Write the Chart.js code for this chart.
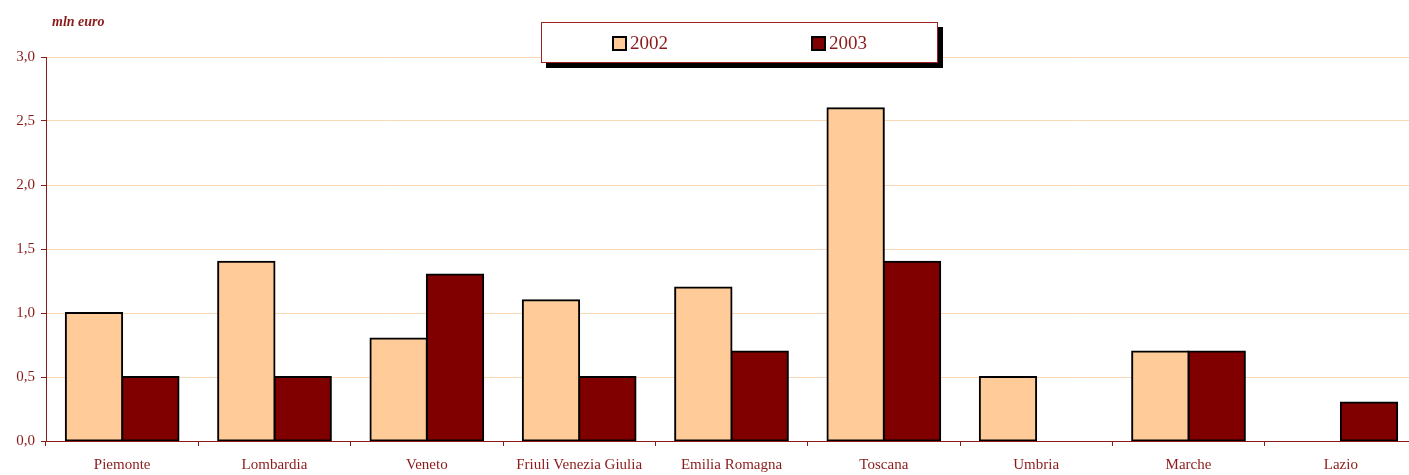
<!DOCTYPE html>
<html><head><meta charset="utf-8">
<script src="https://cdn.jsdelivr.net/npm/chart.js@4/dist/chart.umd.min.js"></script>
<style>
html,body{margin:0;padding:0;background:#fff;}
#wrap{position:relative;width:1409px;height:475px;overflow:hidden;}
#cw{position:absolute;left:0;top:0;width:1420px;height:475px;}
#unit{position:absolute;left:52px;top:14px;font:italic bold 14px "Liberation Serif",serif;color:#8B1A1A;}
#legend{position:absolute;left:541px;top:22px;width:395px;height:39px;border:1px solid #9B2020;background:#fff;box-shadow:5px 5px 0 #000;font:19px "Liberation Serif",serif;color:#8B1A1A;}
.item{position:absolute;top:9px;display:flex;align-items:center;}
.sw{width:11px;height:11px;border:2px solid #000;margin-right:3px;}
</style></head>
<body>
<div id="wrap">
<div id="cw"><canvas id="c" width="1420" height="475"></canvas></div>
<div id="unit">mln euro</div>
<div id="legend">
<div class="item" style="left:70px"><div class="sw" style="background:#FFCC99"></div>2002</div>
<div class="item" style="left:269px"><div class="sw" style="background:#800000"></div>2003</div>
</div>
</div>
<script>
const categories = ["Piemonte","Lombardia","Veneto","Friuli Venezia Giulia","Emilia Romagna","Toscana","Umbria","Marche","Lazio"];
const seriesNames = ["2002","2003"];
const values2002 = [1.0,1.4,0.8,1.1,1.2,2.6,0.5,0.7,null];
const values2003 = [0.5,0.5,1.3,0.5,0.7,1.4,null,0.7,0.3];
const yTicks = [0,0.5,1,1.5,2,2.5,3];

const red = '#8B1A1A';
new Chart(document.getElementById('c'), {
  type: 'bar',
  data: {
    labels: categories,
    datasets: [
      {label: seriesNames[0], data: values2002, backgroundColor:'#FFCC99', borderColor:'#000', borderWidth:2, borderSkipped:false, inflateAmount:1, categoryPercentage:0.74, barPercentage:1},
      {label: seriesNames[1], data: values2003, backgroundColor:'#800000', borderColor:'#000', borderWidth:2, borderSkipped:false, inflateAmount:1, categoryPercentage:0.74, barPercentage:1}
    ]
  },
  options: {
    responsive:false, animation:false,
    layout:{padding:{top:57,right:3,left:0,bottom:0}},
    plugins:{legend:{display:false}, tooltip:{enabled:false}},
    scales:{
      x:{
        grid:{display:true, drawOnChartArea:false, drawTicks:true, tickLength:5, tickColor:red, offset:true},
        border:{color:red, width:1},
        ticks:{color:red, font:{family:'"Liberation Serif", serif', size:15}, padding:10, maxRotation:0, autoSkip:false},
        afterFit:(s)=>{s.height=34;}
      },
      y:{
        min:0, max:3,
        afterBuildTicks:(s)=>{s.ticks = yTicks.map(v=>({value:v}));},
        grid:{color:'#F9D8B6', tickColor:red, tickLength:5, lineWidth:1},
        border:{color:red, width:1},
        ticks:{color:red, font:{family:'"Liberation Serif", serif', size:15}, padding:6,
          callback:(v)=>v.toFixed(1).replace('.',',')},
        afterFit:(s)=>{s.width=46;}
      }
    }
  }
});
</script>
</body></html>
